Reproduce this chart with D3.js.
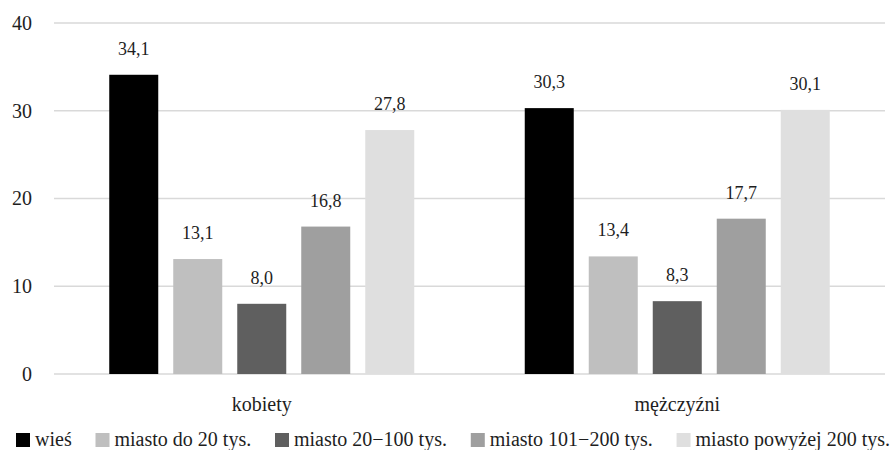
<!DOCTYPE html>
<html>
<head>
<meta charset="utf-8">
<script src="https://cdn.jsdelivr.net/npm/d3@7"></script>
<style>
  html, body { margin: 0; padding: 0; background: #fff; }
  svg, svg text { font-family: "Liberation Serif", "Times New Roman", Times, Tinos, "Noto Serif", "DejaVu Serif", serif; }
</style>
</head>
<body>
<svg id="chart" width="893" height="450"></svg>
<script>
// Groups on the x axis
const categories = ["kobiety", "mężczyźni"];
// Place of residence series
const seriesNames = ["wieś", "miasto do 20 tys.", "miasto 20\u2212100 tys.", "miasto 101\u2212200 tys.", "miasto powyżej 200 tys."];
const seriesColors = ["#000000", "#bfbfbf", "#5f5f5f", "#9f9f9f", "#dfdfdf"];
// Percent values, one array per series: [kobiety, mężczyźni]
const wies = [34.1, 30.3];
const miastoDo20 = [13.1, 13.4];
const miasto20_100 = [8.0, 8.3];
const miasto101_200 = [16.8, 17.7];
const miastoPow200 = [27.8, 30.1];
const seriesValues = [wies, miastoDo20, miasto20_100, miasto101_200, miastoPow200];
const yTicks = [0, 10, 20, 30, 40];

const svg = d3.select("#chart");
const plot = { left: 54, right: 885, top: 23, bottom: 374 };

const x0 = d3.scaleBand().domain(categories).range([plot.left, plot.right]).padding(0);
const x1 = d3.scaleBand().domain(d3.range(seriesNames.length))
  .range([-152.5, 152.5]).paddingInner(15 / 64).paddingOuter(0);
const y = d3.scaleLinear().domain([0, 40]).range([plot.bottom, plot.top]);

const fmt = v => d3.format(".1f")(v).replace(".", ",");
const ink = "#1e1e1e";

// Horizontal gridlines
svg.append("g").selectAll("line").data(yTicks).join("line")
  .attr("x1", plot.left).attr("x2", plot.right)
  .attr("y1", d => y(d)).attr("y2", d => y(d))
  .attr("stroke", "#d9d9d9").attr("stroke-width", 1.3);

// Y axis labels
const yAxis = d3.axisLeft(y).tickValues(yTicks).tickSize(0).tickPadding(0).tickFormat(d3.format("d"));
svg.append("g").attr("transform", "translate(32,0)").call(yAxis)
  .attr("font-family", null)
  .call(g => g.select(".domain").remove())
  .selectAll("text")
  .attr("font-size", 20).attr("fill", ink);

// Bars and value labels
const groups = svg.append("g").selectAll("g").data(categories).join("g")
  .attr("transform", d => `translate(${x0(d) + x0.bandwidth() / 2},0)`);

groups.each(function (cat, ci) {
  const g = d3.select(this);
  const data = seriesValues.map((arr, si) => ({ si, v: arr[ci] }));
  g.selectAll("rect").data(data).join("rect")
    .attr("x", d => x1(d.si))
    .attr("width", x1.bandwidth())
    .attr("y", d => y(d.v))
    .attr("height", d => y(0) - y(d.v))
    .attr("fill", d => seriesColors[d.si]);
  g.selectAll("text").data(data).join("text")
    .attr("x", d => x1(d.si) + x1.bandwidth() / 2)
    .attr("y", d => y(d.v) - 20)
    .attr("text-anchor", "middle")
    .attr("font-size", 18)
    .attr("fill", ink)
    .text(d => fmt(d.v));
});

// Category labels
svg.append("g").selectAll("text").data(categories).join("text")
  .attr("x", d => x0(d) + x0.bandwidth() / 2)
  .attr("y", 411)
  .attr("text-anchor", "middle")
  .attr("font-size", 20)
  .attr("fill", ink)
  .text(d => d);

// Legend in one row spread across the full chart width
const legend = svg.append("g");
const sw = 14, gapSwatch = 5, legendFont = 20;
const legendLeft = 16, legendRight = 890;
const items = legend.selectAll("g").data(seriesNames).join("g");
items.append("rect")
  .attr("width", sw).attr("height", sw).attr("y", 433)
  .attr("fill", (d, i) => seriesColors[i]);
items.append("text")
  .attr("x", sw + gapSwatch).attr("y", 446)
  .attr("font-size", legendFont).attr("fill", ink)
  .text(d => d);
const widths = [];
items.each(function () {
  widths.push(sw + gapSwatch + d3.select(this).select("text").node().getComputedTextLength());
});
const gapItem = (legendRight - legendLeft - d3.sum(widths)) / (widths.length - 1);
let cur = legendLeft;
const offs = widths.map(w => { const o = cur; cur += w + gapItem; return o; });
items.attr("transform", (d, i) => `translate(${offs[i]},0)`);
</script>
</body>
</html>
